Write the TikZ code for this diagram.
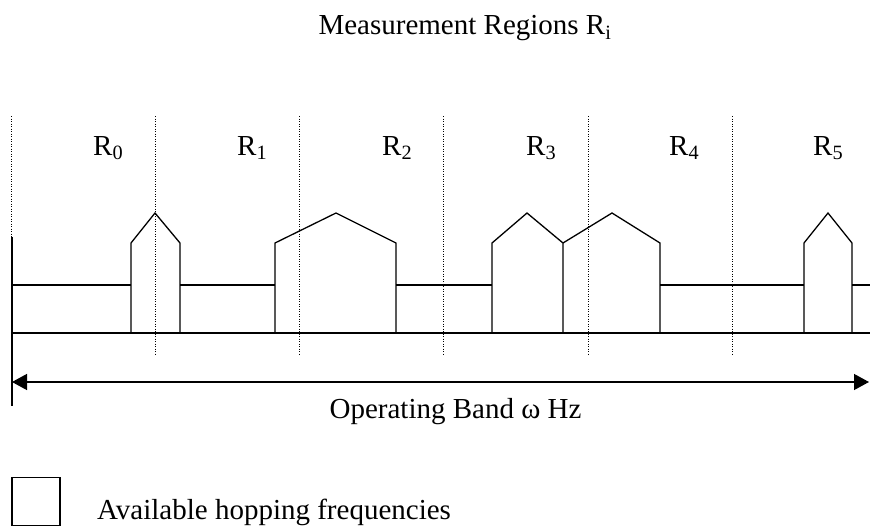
\documentclass[tikz,border=0pt]{standalone}
\usepackage{fontspec}
\setmainfont{Liberation Serif}
\usetikzlibrary{arrows.meta}
\begin{document}
\begin{tikzpicture}[x=1pt,y=-1pt,
  solidline/.style={line width=1.3pt,line join=miter},
  dotline/.style={line width=1pt,dash pattern=on 1pt off 1.5pt},
  lbl/.style={inner sep=0pt,anchor=base west,font=\fontsize{29}{34}\selectfont},
  band/.style={line width=1.3pt,{Triangle[length=15pt,width=16pt]}-{Triangle[length=15pt,width=16pt]}}]
\useasboundingbox (0,0) rectangle (870,527);
% title
\node[lbl,anchor=base] (title) at (465,35) {Measurement Regions R\textsubscript{i}};
% region separators
\foreach \x [count=\i] in {11,155,299,443,588,732}
  \draw[dotline] (\x,116) -- (\x,354);
% region labels
\foreach \x [count=\i from 0] in {93,237,382,526,669,813}
  \node[lbl] (r\i) at (\x,155) {R\textsubscript{\i}};
% baseline and left edge
\draw[solidline] (12,333) -- (870,333);
\draw[solidline] (12,237) -- (12,406);
% low available bands
\draw[solidline] (12,285) -- (131,285);
\draw[solidline] (180,285) -- (275,285);
\draw[solidline] (396,285) -- (492,285);
\draw[solidline] (660,285) -- (804,285);
\draw[solidline] (852,285) -- (870,285);
% tall blocks
\draw[solidline] (131,333) -- (131,243) -- (155,213) -- (180,243) -- (180,333);
\draw[solidline] (275,333) -- (275,243) -- (336,213) -- (396,243) -- (396,333);
\draw[solidline] (492,333) -- (492,243) -- (527,213) -- (563,243) -- (563,333);
\draw[solidline] (563,243) -- (612,213) -- (660,243) -- (660,333);
\draw[solidline] (804,333) -- (804,243) -- (828,213) -- (852,243) -- (852,333);
% operating band arrow
\coordinate (bl) at (12,382);
\coordinate (br) at (869,382);
\draw[band] (bl) -- (br);
\node[lbl,anchor=base] (op) at (455.5,418) {Operating Band ω Hz};
% legend
\node[draw,line width=1.3pt,minimum width=48pt,minimum height=48pt,inner sep=0pt] (legbox) at (36,501.5) {};
\node[lbl] (legtxt) at (97,519) {Available hopping frequencies};
\end{tikzpicture}
\end{document}
